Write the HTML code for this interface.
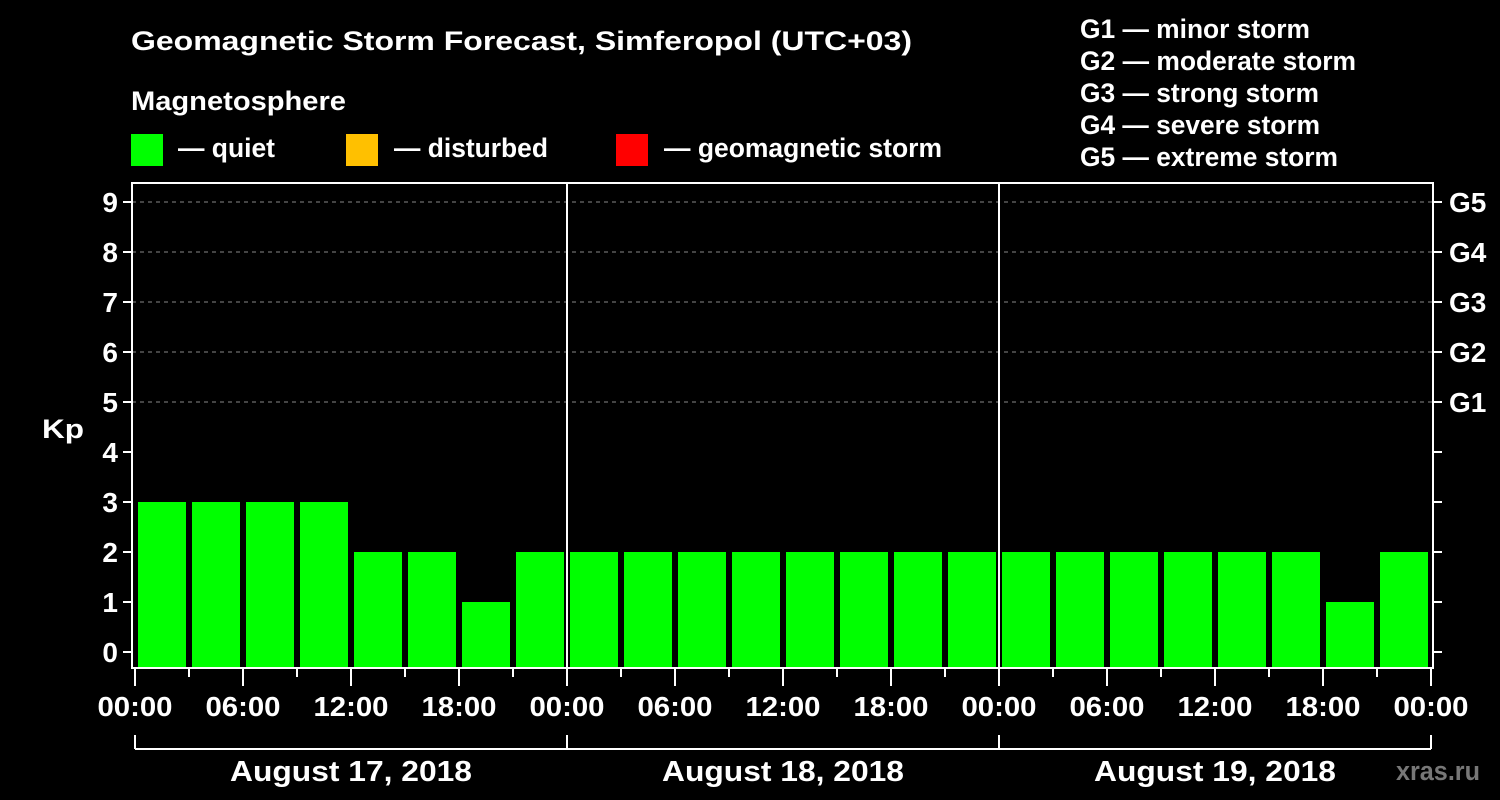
<!DOCTYPE html>
<html><head><meta charset="utf-8"><style>
body{margin:0;background:#000;}
svg{display:block;font-family:"Liberation Sans",Arial,sans-serif;font-weight:bold;}
</style></head><body>
<svg id="c" width="1500" height="800" viewBox="0 0 1500 800">
<rect width="1500" height="800" fill="#000"/>
<g fill="#fff" font-size="27" lengthAdjust="spacingAndGlyphs">
<text x="131" y="50" textLength="781" lengthAdjust="spacingAndGlyphs">Geomagnetic Storm Forecast, Simferopol (UTC+03)</text>
<text x="131" y="110" textLength="215" lengthAdjust="spacingAndGlyphs">Magnetosphere</text>
<text x="178" y="157" textLength="97" lengthAdjust="spacingAndGlyphs">— quiet</text>
<text x="394" y="157" textLength="154" lengthAdjust="spacingAndGlyphs">— disturbed</text>
<text x="664" y="157" textLength="278" lengthAdjust="spacingAndGlyphs">— geomagnetic storm</text>
<text x="1080" y="38" textLength="230" lengthAdjust="spacingAndGlyphs">G1 — minor storm</text>
<text x="1080" y="70" textLength="276" lengthAdjust="spacingAndGlyphs">G2 — moderate storm</text>
<text x="1080" y="102" textLength="239" lengthAdjust="spacingAndGlyphs">G3 — strong storm</text>
<text x="1080" y="134" textLength="240" lengthAdjust="spacingAndGlyphs">G4 — severe storm</text>
<text x="1080" y="166" textLength="258" lengthAdjust="spacingAndGlyphs">G5 — extreme storm</text>
<text x="42" y="438" textLength="42" lengthAdjust="spacingAndGlyphs">Kp</text>
<text x="1396" y="780" fill="#777" textLength="84" lengthAdjust="spacingAndGlyphs">xras.ru</text>
</g>
<rect x="131" y="134" width="32" height="32" fill="#00ff00"/>
<rect x="346" y="134" width="32" height="32" fill="#ffc000"/>
<rect x="616" y="134" width="32" height="32" fill="#ff0000"/>
<g id="grid"></g><g id="bars"></g><g id="axes"></g>
</svg>
<script>
const kpValues=[3,3,3,3,2,2,1,2, 2,2,2,2,2,2,2,2, 2,2,2,2,2,2,1,2];
const dayLabels=["August 17, 2018","August 18, 2018","August 19, 2018"];
const hourLabels=["00:00","06:00","12:00","18:00"];
const gLabels=["G1","G2","G3","G4","G5"];
const NS="http://www.w3.org/2000/svg";
const x0=135,hourW=18,plotLeft=132,plotRight=1433,plotTop=183,plotBottom=668;
const xs=h=>x0+h*hourW;
const ys=v=>652-50*v;
function mk(p,t,a){const e=document.createElementNS(NS,t);for(const k in a)e.setAttribute(k,a[k]);p.appendChild(e);return e;}
const grid=document.getElementById('grid'),bars=document.getElementById('bars'),axes=document.getElementById('axes');
for(let v=5;v<=9;v++){const l=mk(grid,'line',{x1:plotLeft,x2:plotRight,y1:ys(v),y2:ys(v),stroke:'#888','stroke-dasharray':'4,4','stroke-width':1});

}
kpValues.forEach((v,i)=>{const c=v>=5?'#ff0000':(v>=4?'#ffc000':'#00ff00');
const r=mk(bars,'rect',{x:xs(i*3)+3,y:ys(v),width:48,height:plotBottom-ys(v),fill:c});

});
const ax=mk(axes,'rect',{x:plotLeft,y:plotTop,width:plotRight-plotLeft,height:plotBottom-plotTop,fill:'none',stroke:'#fff','stroke-width':2});


for(let d=1;d<3;d++){const l=mk(axes,'line',{x1:xs(d*24),x2:xs(d*24),y1:plotTop,y2:plotBottom,stroke:'#fff','stroke-width':2});

}
for(let v=0;v<=9;v++){mk(axes,'line',{x1:plotLeft-9,x2:plotLeft,y1:ys(v),y2:ys(v),stroke:'#fff','stroke-width':2});
mk(axes,'line',{x1:plotRight,x2:plotRight+9,y1:ys(v),y2:ys(v),stroke:'#fff','stroke-width':2});
const t=mk(axes,'text',{x:plotLeft-14,y:ys(v)+10,fill:'#fff','font-size':28,'text-anchor':'end'});t.textContent=v;


if(v>=5){const g=mk(axes,'text',{x:plotRight+16,y:ys(v)+10,fill:'#fff','font-size':28});g.textContent=gLabels[v-5];

}}
for(let h=0;h<=72;h+=3){const major=h%6===0;
mk(axes,'line',{x1:xs(h),x2:xs(h),y1:plotBottom,y2:plotBottom+(major?18:9),stroke:'#fff','stroke-width':2});
if(major){const t=mk(axes,'text',{x:xs(h),y:716,fill:'#fff','font-size':28,'text-anchor':'middle',textLength:75,lengthAdjust:'spacingAndGlyphs'});t.textContent=hourLabels[(h/6)%4];

}}
mk(axes,'line',{x1:xs(0),x2:xs(72),y1:749,y2:749,stroke:'#fff','stroke-width':2});
for(let d=0;d<=3;d++)mk(axes,'line',{x1:xs(d*24),x2:xs(d*24),y1:735,y2:749,stroke:'#fff','stroke-width':2});
dayLabels.forEach((s,d)=>{const t=mk(axes,'text',{x:xs(d*24+12),y:781,fill:'#fff','font-size':29,'text-anchor':'middle',textLength:242,lengthAdjust:'spacingAndGlyphs'});t.textContent=s;

});
</script>
</body></html>
